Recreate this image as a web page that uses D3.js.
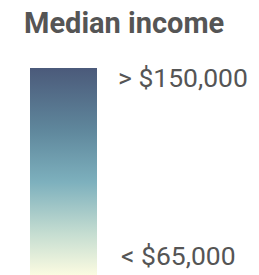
<!DOCTYPE html>
<html>
<head>
<meta charset="utf-8">
<script src="https://cdn.jsdelivr.net/npm/d3@7"></script>
<style>
  body { margin: 0; background: #fff; }
  svg { display: block; }
</style>
</head>
<body>
<div id="chart"></div>
<script>
const title = 'Median income';
const incomeDomain = [65000, 150000];
const tickValues = [150000, 65000];
const tickLabels = ['> $150,000', '< $65,000'];
const stopOffsets = [0, 0.3, 0.55, 0.8, 1];
const stopColors = ['#4b5a7a', '#5f879c', '#7db0bd', '#c5ddd1', '#fbfbe1'];

const width = 259;
const height = 275;

const svg = d3.select('#chart').append('svg')
  .attr('width', width)
  .attr('height', height);

// Title
svg.append('text')
  .attr('x', 24)
  .attr('y', 33)
  .attr('font-family', 'Roboto, sans-serif')
  .attr('font-weight', 700)
  .attr('font-size', '29px')
  .attr('fill', '#555')
  .text(title);

// Gradient
const grad = svg.append('defs').append('linearGradient')
  .attr('id', 'incomeGrad')
  .attr('x1', 0).attr('y1', 0)
  .attr('x2', 0).attr('y2', 1);

grad.selectAll('stop')
  .data(stopOffsets)
  .join('stop')
  .attr('offset', d => d)
  .attr('stop-color', (d, i) => stopColors[i]);

const barTop = 68;
const barBottom = 275;

svg.append('rect')
  .attr('x', 30)
  .attr('y', barTop)
  .attr('width', 67)
  .attr('height', barBottom - barTop)
  .attr('fill', 'url(#incomeGrad)');

// Label positions
const y = d3.scaleLinear()
  .domain(incomeDomain)
  .range([265, 87]);

svg.append('g')
  .selectAll('text')
  .data(tickValues)
  .join('text')
  .attr('x', (d, i) => i === 0 ? 118 : 121)
  .attr('y', d => y(d))
  .attr('font-family', 'Roboto, sans-serif')
  .attr('font-size', '26.5px')
  .attr('fill', '#555')
  .text((d, i) => tickLabels[i]);
</script>
</body>
</html>
